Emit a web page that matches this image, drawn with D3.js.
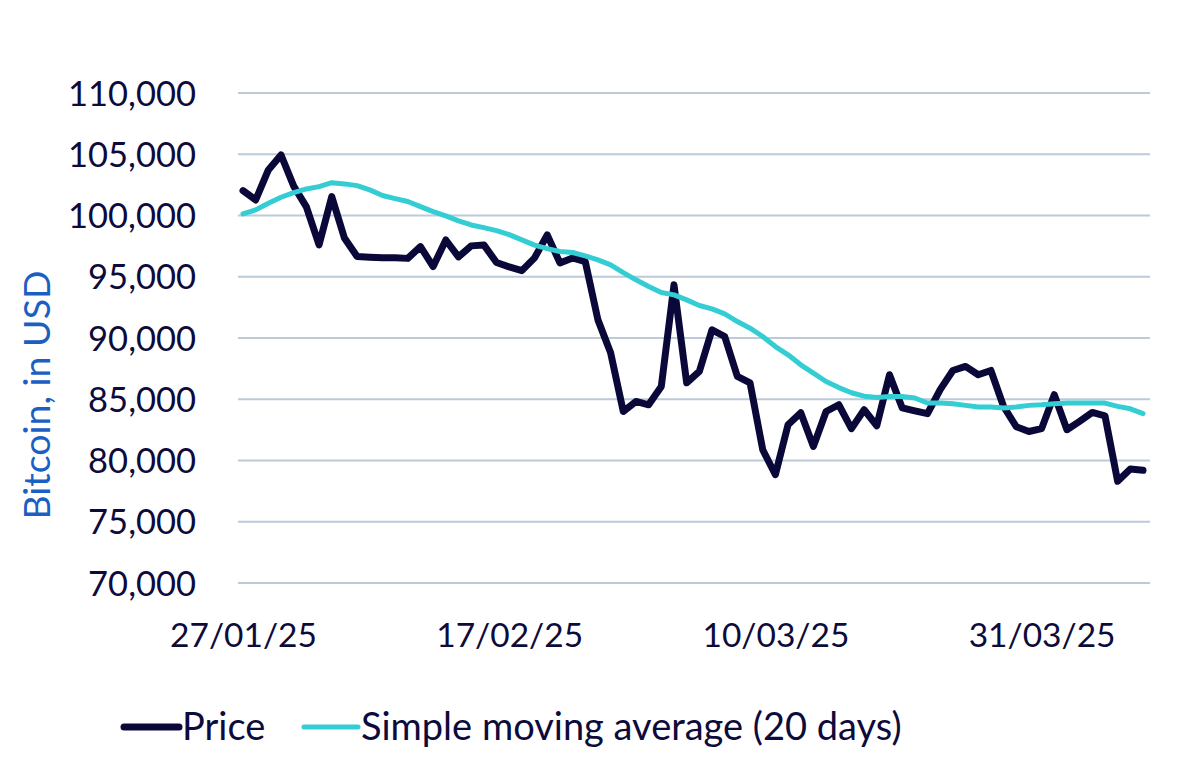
<!DOCTYPE html>
<html>
<head>
<meta charset="utf-8">
<script src="https://cdn.jsdelivr.net/npm/d3@7"></script>
<style>
  html, body { margin: 0; padding: 0; background: #fff; }
  svg text { font-family: Lato, "Noto Sans", sans-serif; }
</style>
</head>
<body>
<svg id="chart" width="1200" height="770"></svg>
<script>
// ---- data ----
const startDate = "2025-01-27";
const endDate = "2025-04-08";
const price = [102030,101270,103720,104940,102400,100700,97600,101540,98170,96650,
  96600,96550,96550,96500,97460,95830,98000,96620,97520,97600,
  96160,95800,95500,96540,98420,96130,96540,96240,91480,88790,
  84000,84820,84550,86050,94340,86340,87270,90670,90120,86860,
  86340,80880,78840,82920,83900,81150,84000,84550,82600,84140,
  82840,87000,84300,84050,83820,85780,87350,87680,87000,87350,
  84410,82760,82370,82600,85370,82510,83190,83920,83650,78300,
  79300,79200];
const sma20 = [100130,100460,101000,101490,101870,102170,102360,102680,102580,102440,
  102090,101630,101380,101140,100730,100320,99970,99560,99230,99010,
  98770,98440,98010,97580,97300,97060,96980,96700,96380,95970,
  95340,94750,94200,93710,93520,93110,92650,92380,91970,91340,
  90800,90120,89300,88630,87810,87130,86450,85950,85530,85250,
  85150,85230,85230,85100,84690,84690,84630,84500,84360,84360,
  84280,84360,84500,84550,84630,84690,84690,84690,84690,84420,
  84220,83820];
const xTickDates = ["2025-01-27","2025-02-17","2025-03-10","2025-03-31"];
const yTicks = [70000,75000,80000,85000,90000,95000,100000,105000,110000];
const seriesNames = ["Price","Simple moving average (20 days)"];
const seriesColors = ["#0a0838","#33cdd3"];

// ---- setup ----
const parse = d3.timeParse("%Y-%m-%d");
const dates = d3.timeDay.range(parse(startDate), d3.timeDay.offset(parse(endDate), 1));
const svg = d3.select("#chart");
const textColor = "#0d0b3b";

const x = d3.scaleTime().domain([parse(startDate), parse(endDate)]).range([243, 1143]);
const y = d3.scaleLinear().domain([70000, 110000]).range([583, 93]);

// gridlines
svg.append("g").selectAll("line").data(yTicks).join("line")
  .attr("x1", 238).attr("x2", 1150)
  .attr("y1", d => y(d)).attr("y2", d => y(d))
  .attr("stroke", "#bccada").attr("stroke-width", 2);

// y axis labels
const yAxis = d3.axisLeft(y).tickValues(yTicks).tickSize(0).tickPadding(0)
  .tickFormat(d3.format(","));
svg.append("g").attr("transform", "translate(196,0)").call(yAxis)
  .call(g => g.select(".domain").remove())
  .call(g => g.selectAll("text").attr("fill", textColor)
    .style("font-size", "34.5px").attr("dy", "0.35em"));

// x axis labels
const xAxis = d3.axisBottom(x).tickValues(xTickDates.map(parse)).tickSize(0).tickPadding(0)
  .tickFormat(d3.timeFormat("%d/%m/%y"));
svg.append("g").attr("transform", "translate(0,623)").call(xAxis)
  .call(g => g.select(".domain").remove())
  .call(g => g.selectAll("text").attr("fill", textColor)
    .style("font-size", "33.5px").attr("dy", "0.72em"));

// y title
svg.append("text")
  .attr("transform", "translate(50,395) rotate(-90)")
  .attr("text-anchor", "middle")
  .attr("fill", "#1b5fc4")
  .style("font-size", "37.5px")
  .text("Bitcoin, in USD");

// lines
const line = d3.line().x((d, i) => x(dates[i])).y(d => y(d));
svg.append("path").datum(price)
  .attr("d", line).attr("fill", "none")
  .attr("stroke", seriesColors[0]).attr("stroke-width", 7)
  .attr("stroke-linejoin", "round").attr("stroke-linecap", "round");
svg.append("path").datum(sma20)
  .attr("d", line).attr("fill", "none")
  .attr("stroke", seriesColors[1]).attr("stroke-width", 5)
  .attr("stroke-linejoin", "round").attr("stroke-linecap", "round");

// legend
const legendY = 727;
const legendItems = [
  {name: seriesNames[0], color: seriesColors[0], x1: 124, x2: 179, w: 7, tx: 182},
  {name: seriesNames[1], color: seriesColors[1], x1: 304, x2: 358, w: 5, tx: 361}
];
const lg = svg.append("g");
legendItems.forEach(it => {
  lg.append("line").attr("x1", it.x1).attr("x2", it.x2)
    .attr("y1", legendY).attr("y2", legendY)
    .attr("stroke", it.color).attr("stroke-width", it.w).attr("stroke-linecap", "round");
  lg.append("text").attr("x", it.tx).attr("y", legendY).attr("dy", "0.35em")
    .attr("fill", textColor).style("font-size", "38px").text(it.name);
});
</script>
</body>
</html>
